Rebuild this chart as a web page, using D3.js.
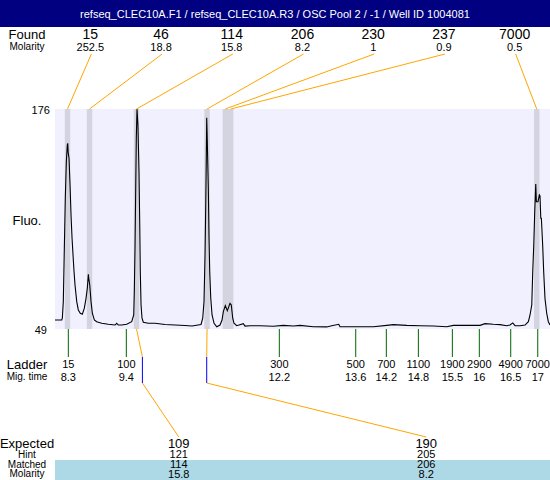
<!DOCTYPE html>
<html>
<head>
<meta charset="utf-8">
<script src="https://cdn.jsdelivr.net/npm/d3@7"></script>
<style>
    body { margin: 0; background: #fff; }
    text { font-family: "Liberation Sans", Arial, sans-serif; fill: #000; }
</style>
</head>
<body>
<svg width="550" height="480"></svg>
<script>
// **** data ****

var chartTitle = 'refseq_CLEC10A.F1 / refseq_CLEC10A.R3 / OSC Pool 2 / -1 / Well ID 1004081';

// found peaks (size, molarity, migration time in s)
var foundSizes = ['15', '46', '114', '206', '230', '237', '7000'];
var foundMolarity = ['252.5', '18.8', '15.8', '8.2', '1', '0.9', '0.5'];
var foundTimes = [8.285, 8.693, 9.564, 10.871, 11.210, 11.310, 16.982];

// ladder
var ladderSizes = ['15', '100', '300', '500', '700', '1100', '1900', '2900', '4900', '7000'];
var ladderTimes = [8.30, 9.375, 12.211, 13.627, 14.194, 14.788, 15.418, 15.918, 16.50, 17.001];
var ladderTimeLabels = ['8.3', '9.4', '12.2', '13.6', '14.2', '14.8', '15.5', '16', '16.5', '17'];

// expected products
var expectedSizes = ['109', '190'];
var expectedHint = ['121', '205'];
var expectedMatched = ['114', '206'];
var expectedMolarity = ['15.8', '8.2'];
var expectedTimes = [9.673, 10.865];
var expectedPeak = [2, 3]; // index of the matched found peak

var yTicks = [49, 176];

// fluorescence trace
var traceTimes = [8.053, 8.178, 8.189, 8.207, 8.226, 8.244, 8.263, 8.281, 8.289, 8.298,
    8.313, 8.332, 8.350, 8.369, 8.387, 8.406, 8.424, 8.456, 8.485, 8.522,
    8.560, 8.597, 8.628, 8.652, 8.671, 8.678, 8.697, 8.721, 8.745, 8.782,
    8.826, 8.919, 9.041, 9.166, 9.197, 9.227, 9.290, 9.382, 9.475, 9.512,
    9.523, 9.536, 9.549, 9.560, 9.573, 9.590, 9.610, 9.623, 9.634, 9.648,
    9.666, 9.690, 9.783, 9.907, 10.092, 10.278, 10.463, 10.593, 10.704, 10.760,
    10.791, 10.815, 10.834, 10.847, 10.858, 10.865, 10.876, 10.895, 10.908, 10.921,
    10.940, 10.964, 11.001, 11.051, 11.112, 11.149, 11.173, 11.210, 11.247, 11.297,
    11.321, 11.347, 11.371, 11.421, 11.544, 11.575, 11.668, 11.853, 12.100, 12.285,
    12.471, 12.595, 12.841, 13.090, 13.182, 13.312, 13.336, 13.646, 13.953, 14.202,
    14.324, 14.573, 14.819, 15.066, 15.314, 15.436, 15.685, 15.931, 16.024, 16.178,
    16.302, 16.426, 16.487, 16.537, 16.580, 16.673, 16.766, 16.827, 16.858, 16.890,
    16.908, 16.927, 16.945, 16.964, 16.975, 17.006, 17.031, 17.043, 17.057, 17.068,
    17.092, 17.111, 17.135, 17.167, 17.197, 17.228];
var traceValues = [54.2, 54.2, 55.2, 64.8, 95.6, 124.5, 145.6, 155.2, 156.2, 150.5,
    147.6, 132.1, 114.8, 101.4, 91.7, 82.1, 74.4, 64.8, 60.0, 58.1,
    57.5, 61.0, 66.7, 72.5, 80.6, 78.5, 74.4, 64.8, 58.1, 54.2,
    53.2, 52.3, 51.7, 51.3, 52.3, 51.3, 51.3, 51.7, 53.2, 57.1,
    70.5, 95.6, 130.2, 159.1, 176.0, 166.8, 139.8, 111.0, 82.1, 62.9,
    55.2, 52.9, 52.3, 52.3, 51.6, 51.3, 51.0, 50.7, 51.3, 51.6,
    55.2, 64.8, 91.7, 120.6, 149.5, 171.0, 157.1, 130.2, 101.4, 82.1,
    66.7, 57.1, 52.3, 50.3, 51.3, 54.2, 59.0, 62.5, 59.6, 63.8,
    62.9, 55.2, 52.3, 50.9, 52.1, 50.7, 50.9, 50.9, 50.6, 51.1,
    50.7, 51.1, 50.3, 50.2, 50.9, 51.7, 50.3, 50.3, 50.3, 51.1,
    51.5, 51.1, 50.9, 50.7, 50.3, 51.1, 51.1, 51.1, 52.1, 51.7,
    51.5, 50.9, 51.3, 52.5, 50.9, 50.9, 51.3, 53.2, 57.1, 62.9,
    82.1, 97.5, 116.7, 132.7, 122.5, 122.5, 126.4, 125.8, 112.9, 112.9,
    97.5, 82.1, 66.7, 58.1, 53.2, 51.3];

// **** layout ****

var svg = d3.select('svg');
var svgWidth = +svg.attr('width');

var plot = { l: 55, r: 550, t: 109, b: 329 };
var labelX = 27;   // centre of the row captions on the left
var bandW = 5.4;   // width of a found-peak band in px

var xScale = d3.scaleLinear().domain([8.053, 17.228]).range([plot.l, plot.r]);
var yScale = d3.scaleLinear().domain([49, 176]).range([plot.b, plot.t]);

var foundSlot = d3.scaleBand().domain(d3.range(foundSizes.length)).range([plot.l, plot.r]);
var expectedSlot = d3.scaleBand().domain(d3.range(expectedSizes.length)).range([plot.l, plot.r]);

function foundX(i) { return foundSlot(i) + foundSlot.bandwidth() / 2; }
function expectedX(i) { return expectedSlot(i) + expectedSlot.bandwidth() / 2; }

function addText(x, y, size, str, anchor) {
    return svg.append('text')
        .attr('x', x)
        .attr('y', y)
        .attr('font-size', size)
        .attr('text-anchor', anchor || 'middle')
        .text(str);
}

// header
svg.append('rect')
    .attr('x', 0).attr('y', 0)
    .attr('width', svgWidth).attr('height', 27)
    .attr('fill', '#000080');

addText(svgWidth / 2, 18, 11, chartTitle).style('fill', '#fff');

// plot background
svg.append('rect')
    .attr('x', plot.l).attr('y', plot.t)
    .attr('width', plot.r - plot.l).attr('height', plot.b - plot.t)
    .attr('fill', '#f0f0ff');

// found peak bands
svg.selectAll('.band')
    .data(foundTimes)
    .enter()
    .append('rect')
    .attr('class', 'band')
    .attr('x', d => xScale(d) - bandW / 2)
    .attr('y', plot.t)
    .attr('width', bandW)
    .attr('height', plot.b - plot.t)
    .attr('fill', '#d4d4e0');

// trace
var trace = traceTimes.map((t, i) => [t, traceValues[i]]);

svg.append('path')
    .datum(trace)
    .attr('fill', 'none')
    .attr('stroke', '#000')
    .attr('stroke-width', 1.1)
    .attr('d', d3.line().x(d => xScale(d[0])).y(d => yScale(d[1])));

// y labels
yTicks.forEach(function(v) {
    addText(40.8, yScale(v) + 4.5, 11, v);
});
addText(labelX, 225, 13, 'Fluo.');

// found rows and connectors
addText(labelX, 39, 13, 'Found');
addText(labelX, 49.5, 10, 'Molarity');

foundSizes.forEach(function(s, i) {
    addText(foundX(i), 39, 14, s);
    addText(foundX(i), 50.5, 11, foundMolarity[i]);

    svg.append('line')
        .attr('x1', foundX(i) + 1).attr('y1', 54)
        .attr('x2', xScale(foundTimes[i])).attr('y2', plot.t)
        .attr('stroke', '#ffa500')
        .attr('stroke-width', 1);
});

// ladder ticks
addText(labelX, 368.5, 13, 'Ladder');
addText(labelX, 379.5, 10, 'Mig. time');

ladderSizes.forEach(function(s, i) {
    var lx = xScale(ladderTimes[i]);
    svg.append('line')
        .attr('x1', lx).attr('y1', plot.b)
        .attr('x2', lx).attr('y2', 357)
        .attr('stroke', '#006400')
        .attr('stroke-width', 1);
    addText(lx, 367.5, 11, s);
    addText(lx, 381, 11, ladderTimeLabels[i]);
});

// expected table
svg.append('rect')
    .attr('x', plot.l).attr('y', 460)
    .attr('width', plot.r - plot.l).attr('height', 20)
    .attr('fill', '#add8e6');

addText(labelX, 448, 13, 'Expected');
addText(labelX, 458, 10, 'Hint');
addText(labelX, 468, 10, 'Matched');
addText(labelX, 477, 10, 'Molarity');

expectedSizes.forEach(function(s, i) {
    var ex = expectedX(i);
    var mx = xScale(expectedTimes[i]);
    var px = xScale(foundTimes[expectedPeak[i]]);

    addText(ex, 448, 13, s);
    addText(ex, 458, 11, expectedHint[i]);
    addText(ex, 468, 11, expectedMatched[i]);
    addText(ex, 477.5, 11, expectedMolarity[i]);

    svg.append('polyline')
        .attr('points', `${px},${plot.b} ${mx},357`)
        .attr('fill', 'none')
        .attr('stroke', '#ffa500');
    svg.append('line')
        .attr('x1', mx).attr('y1', 357)
        .attr('x2', mx).attr('y2', 383)
        .attr('stroke', '#0000ff');
    svg.append('line')
        .attr('x1', mx).attr('y1', 383)
        .attr('x2', ex).attr('y2', 437)
        .attr('stroke', '#ffa500');
});
</script>
</body>
</html>
